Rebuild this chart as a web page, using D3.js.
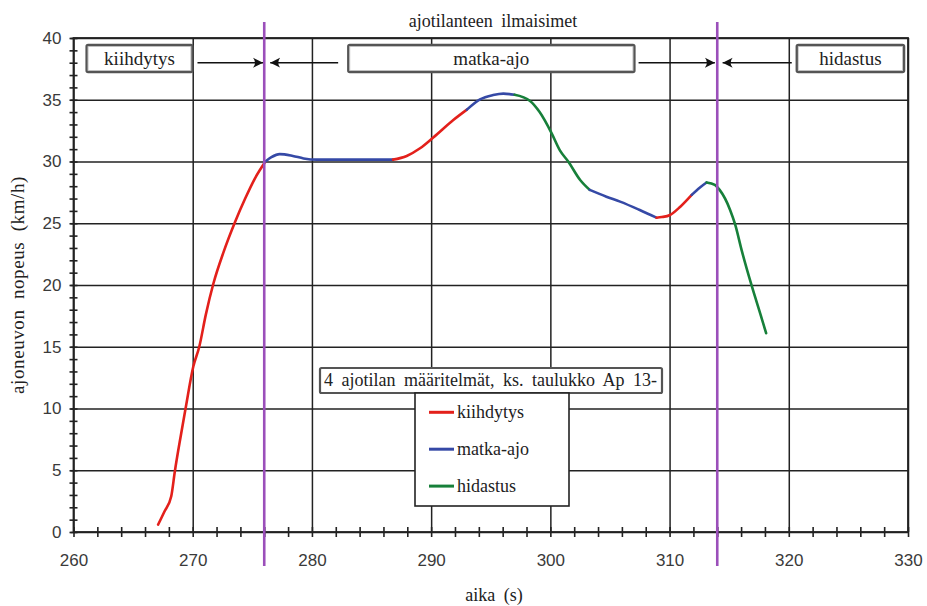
<!DOCTYPE html>
<html><head><meta charset="utf-8">
<script src="https://cdn.jsdelivr.net/npm/d3@7"></script>
<style>
body{margin:0;background:#fff;}
svg{display:block;}
svg text.serif{font-family:"Liberation Serif" !important;}
svg text.sans{font-family:"Liberation Sans" !important;}
</style></head>
<body><svg id="c" width="927" height="606"></svg>
<script>
// ---- data ----
const times  = [267.1,267.6,268.2,268.5,269.0,269.4,270.05,270.55,271.1,271.73,272.6,273.55,274.4,275.2,
                276.1,276.6,277.3,278.4,279.3,280.4,283.0,
                286.8,287.95,289.07,290.2,291.86,
                293.0,294.1,295.2,296.06,
                297.0,298.3,299.1,300.1,300.8,301.5,302.5,
                303.3,304.7,305.85,307.5,
                308.9,309.35,310.04,310.9,
                311.86,312.55,
                313.1,313.8,314.2,315.07,315.5,316.05,316.9,317.6,318.1];
const speeds = [0.6,1.6,2.9,4.9,7.8,10.0,13.4,15.0,17.6,20.1,22.7,25.1,27.0,28.6,
                30.0,30.35,30.6,30.45,30.25,30.15,30.15,
                30.15,30.45,31.07,31.96,33.36,
                34.2,35.03,35.38,35.5,
                35.4,34.9,34.0,32.3,30.9,30.0,28.5,
                27.7,27.15,26.75,26.07,
                25.45,25.5,25.67,26.34,
                27.3,27.9,
                28.3,28.1,27.7,26.1,24.9,22.8,19.9,17.7,16.1];
// phase of the segment that starts at each point: 0 kiihdytys, 1 matka-ajo, 2 hidastus
const phases = [0,0,0,0,0,0,0,0,0,0,0,0,0,0,
                1,1,1,1,1,1,1,
                0,0,0,0,0,
                1,1,1,1,
                2,2,2,2,2,2,2,
                1,1,1,1,
                0,0,0,0,
                1,1,
                2,2,2,2,2,2,2,2,2];
const phaseNames = ["kiihdytys","matka-ajo","hidastus"];
const boundaryTimes = [276, 314];
const xTicks = [260,270,280,290,300,310,320,330];
const yTicks = [0,5,10,15,20,25,30,35,40];
const xMinor = d3.range(260,331,2);
const yMinor = d3.range(0,41,1);
const chartTitle = "ajotilanteen ilmaisimet";
const xTitle = "aika (s)";
const yTitle = "ajoneuvon nopeus (km/h)";
const noteText = "4 ajotilan määritelmät, ks. taulukko Ap 13-";

// ---- styles ----
const colors = ["#e3201b","#3549a6","#17803a"];
const purple = "#9b4fba";

const svg = d3.select("#c");
const x = d3.scaleLinear().domain([260,330]).range([73.5,908]);
const y = d3.scaleLinear().domain([0,40]).range([532,38]);
const X0 = x.range()[0], X1 = x.range()[1], Y0 = y.range()[0], Y1 = y.range()[1];

function serifText(sel, size, ws, ls){
  return sel.attr("class","serif").attr("font-family","Liberation Serif")
    .attr("style",`font-family:'Liberation Serif' !important;font-size:${size}px;word-spacing:${ws||0}px;letter-spacing:${ls||0}px`)
    .attr("fill","#222");
}

// gridlines
svg.append("g").attr("transform",`translate(0,${Y0})`)
  .call(d3.axisBottom(x).tickValues(xTicks).tickSize(-(Y0-Y1)).tickFormat(""))
  .call(g=>{g.select(".domain").remove();g.selectAll("line").attr("stroke","#222").attr("stroke-width",1.5);});
svg.append("g").attr("transform",`translate(${X0},0)`)
  .call(d3.axisLeft(y).tickValues(yTicks).tickSize(-(X1-X0)).tickFormat(""))
  .call(g=>{g.select(".domain").remove();g.selectAll("line").attr("stroke","#222").attr("stroke-width",1.5).attr("x1",-3);});

// minor ticks (crossing the axes)
svg.append("g").attr("transform",`translate(${X0},0)`)
  .call(d3.axisLeft(y).tickValues(yMinor).tickSize(4).tickFormat(""))
  .call(g=>{g.select(".domain").remove();g.selectAll("line").attr("x1",4).attr("stroke","#222").attr("stroke-width",1.6);});
svg.append("g").attr("transform",`translate(0,${Y0})`)
  .call(d3.axisBottom(x).tickValues(xMinor).tickSize(5).tickFormat(""))
  .call(g=>{g.select(".domain").remove();g.selectAll("line").attr("y1",-5).attr("stroke","#222").attr("stroke-width",1.6);});

// frame
svg.append("rect").attr("x",X0).attr("y",Y1).attr("width",X1-X0).attr("height",Y0-Y1)
  .attr("fill","none").attr("stroke","#222").attr("stroke-width",1.8);

// tick labels
svg.append("g").attr("transform",`translate(${X0},0)`)
  .call(d3.axisLeft(y).tickValues(yTicks).tickSize(0).tickPadding(12))
  .call(g=>{g.select(".domain").remove();g.attr("font-family","Liberation Sans").attr("font-size",17);
    g.selectAll("text").attr("class","sans").attr("fill","#3a3a3a");});
svg.append("g").attr("transform",`translate(0,${Y0})`)
  .call(d3.axisBottom(x).tickValues(xTicks).tickSize(0).tickPadding(22))
  .call(g=>{g.select(".domain").remove();g.attr("font-family","Liberation Sans").attr("font-size",17);
    g.selectAll("text").attr("class","sans").attr("fill","#3a3a3a");});

// axis titles and chart title
serifText(svg.append("text").attr("x",494).attr("y",601).attr("text-anchor","middle"),18,4).text(xTitle);
serifText(svg.append("text").attr("transform",`translate(24,${(Y0+Y1)/2}) rotate(-90)`).attr("text-anchor","middle"),19,5,0.6)
  .text(yTitle);
serifText(svg.append("text").attr("x",493).attr("y",27).attr("text-anchor","middle"),18,4).text(chartTitle);

// data line, coloured by phase
const pts = times.map((t,i)=>({t,v:speeds[i],p:phases[i]}));
const segs = [];
for(let i=0;i<pts.length-1;i++){
  const last = segs[segs.length-1];
  if(last && last.p===pts[i].p) last.pts.push(pts[i+1]);
  else segs.push({p:pts[i].p, pts:[pts[i],pts[i+1]]});
}
const line = d3.line().x(d=>x(d.t)).y(d=>y(d.v)).curve(d3.curveMonotoneX);
svg.append("g").selectAll("path").data(segs).join("path")
  .attr("d",d=>line(d.pts)).attr("fill","none").attr("stroke",d=>colors[d.p])
  .attr("stroke-width",2.6).attr("stroke-linejoin","round").attr("stroke-linecap","round");

// phase boundaries
svg.append("g").selectAll("line").data(boundaryTimes).join("line")
  .attr("x1",d=>x(d)).attr("x2",d=>x(d)).attr("y1",22).attr("y2",566)
  .attr("stroke",purple).attr("stroke-width",2.6);

// arrows
const defs = svg.append("defs");
defs.append("marker").attr("id","ah").attr("viewBox","-10 -6 12 12").attr("refX",0).attr("refY",0)
  .attr("markerWidth",12).attr("markerHeight",12).attr("markerUnits","userSpaceOnUse").attr("orient","auto")
  .append("path").attr("d","M0,0 L-10,-5 Q-6,0 -10,5 Z").attr("fill","#111");
const arrowY = y(38);
const arrows = [[270.4,275.9],[282.2,276.5],[307.4,313.8],[320.25,314.45]];
svg.append("g").selectAll("line").data(arrows).join("line")
  .attr("x1",d=>x(d[0])).attr("x2",d=>x(d[1])).attr("y1",arrowY).attr("y2",arrowY)
  .attr("stroke","#111").attr("stroke-width",1.6).attr("marker-end","url(#ah)");

// phase label boxes
const boxes = [[261.1,269.97],[283.05,307.05],[320.67,329.67]];
const bg = svg.append("g").selectAll("g").data(boxes).join("g");
bg.append("rect").attr("x",d=>x(d[0])).attr("y",45).attr("width",d=>x(d[1])-x(d[0])).attr("height",27)
  .attr("fill","#fff").attr("stroke","#555").attr("stroke-width",2.4).attr("rx",1.5);
bg.append("rect").attr("x",d=>x(d[0])+1.5).attr("y",46.5).attr("width",d=>x(d[1])-x(d[0])-3).attr("height",24)
  .attr("fill","none").attr("stroke","#bbb").attr("stroke-width",0.8);
serifText(bg.append("text").attr("x",d=>(x(d[0])+x(d[1]))/2).attr("y",64.5).attr("text-anchor","middle"),19,0)
  .text((d,i)=>phaseNames[i]);

// note box
svg.append("rect").attr("x",320).attr("y",368).attr("width",342).attr("height",25)
  .attr("fill","#fff").attr("stroke","#555").attr("stroke-width",2.2).attr("rx",1.5);
serifText(svg.append("text").attr("x",324).attr("y",386),18,4).text(noteText);

// legend
svg.append("rect").attr("x",415).attr("y",393).attr("width",154).attr("height",113)
  .attr("fill","#fff").attr("stroke","#222").attr("stroke-width",1.6);
const lg = svg.append("g").selectAll("g").data(phaseNames).join("g")
  .attr("transform",(d,i)=>`translate(0,${412.3+i*36.9})`);
lg.append("line").attr("x1",429).attr("x2",454).attr("stroke",(d,i)=>colors[i]).attr("stroke-width",3);
serifText(lg.append("text").attr("x",457).attr("y",5.5),18,0).text(d=>d);
</script></body></html>
